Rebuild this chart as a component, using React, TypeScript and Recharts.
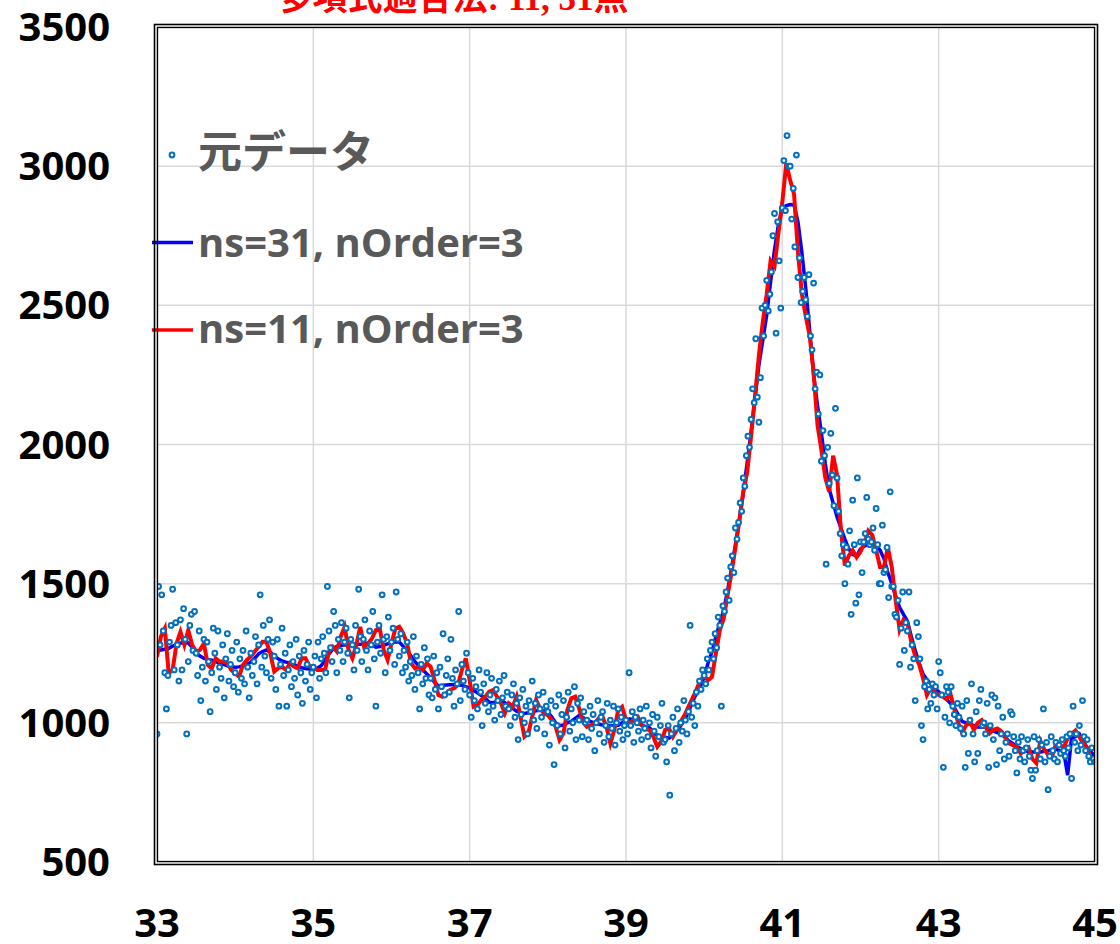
import {
  CartesianGrid,
  ComposedChart,
  Legend,
  Line,
  Scatter,
  XAxis,
  YAxis,
} from "recharts";

/* ===== Size ===== */
const CHART_W = 1120;
const CHART_H = 944;

/* ===== Labels ===== */
const TITLE = "多項式適合法: 11, 31点";
const RAW_NAME = "元データ";
const NS31_NAME = "ns=31, nOrder=3";
const NS11_NAME = "ns=11, nOrder=3";

/* ===== Ticks ===== */
const X_TICKS = [33, 35, 37, 39, 41, 43, 45];
const Y_TICKS = [500, 1000, 1500, 2000, 2500, 3000, 3500];

/* ===== Raw counts, 2θ = 33.00 .. 45.00 step 0.02 ===== */
const RAW_START = 33;
const RAW_STEP = 0.02;
const rawCounts = [
  960, 1490, 1280, 1460, 1330, 1180, 1050, 1170, 1290, 1350, 1480, 1190, 1360, 1280, 1150, 1370, 1190, 1410, 1300, 960, 1220, 1350, 1390, 1260, 1400,
  1250, 1170, 1330, 1080, 1200, 1300, 1150, 1290, 1220, 1040, 1180, 1340, 1250, 1120, 1330, 1200, 1160, 1280, 1090, 1230, 1320, 1150, 1210, 1260, 1130,
  1180, 1290, 1110, 1230, 1160, 1260, 1140, 1330, 1200, 1090, 1250, 1170, 1220, 1310, 1140, 1280, 1460, 1200, 1350, 1240, 1180, 1300, 1370, 1160, 1290,
  1240, 1120, 1300, 1060, 1210, 1340, 1170, 1250, 1060, 1190, 1280, 1130, 1220, 1160, 1300, 1100, 1240, 1180, 1070, 1260, 1150, 1210, 1290, 1120, 1180,
  1200, 1240, 1090, 1290, 1160, 1230, 1310, 1250, 1180, 1490, 1330, 1270, 1220, 1400, 1350, 1180, 1300, 1260, 1360, 1220, 1290, 1340, 1250, 1090, 1300,
  1280, 1190, 1350, 1260, 1480, 1310, 1220, 1300, 1370, 1260, 1190, 1330, 1280, 1400, 1230, 1060, 1290, 1350, 1250, 1460, 1300, 1180, 1310, 1380, 1260,
  1290, 1340, 1210, 1470, 1300, 1240, 1320, 1180, 1260, 1200, 1290, 1150, 1220, 1170, 1310, 1120, 1240, 1180, 1050, 1210, 1140, 1270, 1160, 1230, 1100,
  1160, 1090, 1240, 1120, 1180, 1050, 1200, 1130, 1320, 1100, 1170, 1230, 1110, 1300, 1160, 1060, 1190, 1140, 1400, 1080, 1210, 1150, 1120, 1250, 1180,
  1100, 1020, 1160, 1080, 1130, 1050, 1190, 1110, 990, 1140, 1070, 1180, 1040, 1100, 1160, 1060, 1010, 1120, 1080, 1150, 1030, 1090, 1170, 1060, 1110,
  1050, 990, 1100, 1140, 1020, 1070, 940, 1090, 1030, 1120, 1000, 1060, 960, 1080, 1040, 1150, 1010, 1070, 980, 1100, 1050, 1020, 1110, 960, 1060,
  1040, 920, 1080, 1000, 850, 1060, 990, 1100, 960, 1030, 1080, 910, 1020, 1110, 970, 1050, 1000, 1130, 940, 1070, 1010, 1090, 950, 1040, 1000,
  1010, 940, 1060, 980, 1030, 900, 1000, 1080, 960, 1020, 1040, 930, 990, 1070, 950, 1010, 980, 1060, 920, 1000, 1050, 970, 1020, 940, 990,
  1010, 960, 1180, 990, 1040, 930, 1020, 1000, 970, 1050, 940, 1010, 980, 1060, 950, 1000, 910, 1030, 970, 880, 1020, 950, 990, 1070, 930,
  940, 860, 990, 740, 960, 1020, 900, 980, 1050, 930, 1000, 970, 1080, 1010, 960, 1040, 1350, 1020, 1070, 990, 1110, 1060, 1150, 1120, 1190,
  1170, 1140, 1230, 1190, 1260, 1290, 1230, 1320, 1270, 1380, 1350, 1060, 1420, 1400, 1470, 1520, 1440, 1560, 1600, 1540, 1700, 1660, 1720, 1790, 1760,
  1880, 1850, 1960, 2030, 1990, 2090, 2200, 2150, 2380, 2170, 2080, 2240, 2490, 2390, 2500, 2590, 2480, 2540, 2620, 2750, 2830, 2400, 2800, 2660, 2490,
  2850, 3020, 2840, 3110, 3000, 3000, 2810, 2920, 2710, 3040, 2600, 2670, 2510, 2550, 2600, 2520, 2460, 2610, 2390, 2340, 2580, 2200, 2260, 2110, 2250,
  1940, 2050, 1960, 1570, 1990, 1860, 2040, 1890, 1780, 2130, 1880, 1760, 1680, 1600, 1640, 1500, 1630, 1570, 1690, 1390, 1800, 1640, 1430, 1880, 1460,
  1650, 1540, 1650, 1680, 1810, 1660, 1640, 1650, 1700, 1620, 1770, 1640, 1500, 1500, 1710, 1540, 1550, 1630, 1450, 1830, 1490, 1490, 1390, 1380, 1440,
  1210, 1340, 1470, 1260, 1360, 1330, 1470, 1200, 1280, 1230, 1080, 1360, 1310, 1230, 990, 940, 1130, 1150, 1050, 1120, 1070, 1140, 1100, 1130, 1050,
  1220, 1180, 1100, 840, 1020, 1130, 1110, 1000, 1130, 1060, 1030, 990, 1070, 1020, 980, 1060, 960, 840, 1080, 890, 1010, 1140, 960, 860, 1040,
  890, 1080, 1120, 990, 1000, 960, 1070, 840, 990, 1100, 940, 1090, 850, 1060, 900, 960, 1020, 870, 930, 960, 880, 1040, 1030, 950, 900,
  820, 930, 870, 950, 900, 860, 910, 940, 880, 830, 800, 950, 830, 900, 940, 870, 920, 1050, 860, 930, 760, 880, 950, 900, 870,
  930, 860, 920, 890, 940, 900, 880, 950, 910, 960, 800, 1060, 930, 960, 900, 990, 920, 1080, 950, 900, 940, 880, 860, 910, 870,
  860,
];

/* ===== Smoothed curves, 2θ = 33.00 .. 45.00 step 0.05 ===== */
const FIT_START = 33;
const FIT_STEP = 0.05;
const ns31Fit = [
  1262, 1262, 1264, 1268, 1275, 1282, 1287, 1288, 1287, 1272,
  1250, 1240, 1232, 1228, 1225, 1220, 1215, 1210, 1205, 1202,
  1200, 1201, 1205, 1210, 1218, 1232, 1248, 1256, 1262, 1254,
  1240, 1230, 1222, 1218, 1215, 1210, 1203, 1198, 1195, 1193,
  1192, 1196, 1205, 1225, 1248, 1265, 1275, 1279, 1280, 1280,
  1280, 1281, 1282, 1285, 1287, 1280, 1272, 1274, 1278, 1284,
  1288, 1290, 1290, 1275, 1258, 1240, 1220, 1205, 1190, 1176,
  1163, 1146, 1133, 1134, 1136, 1137, 1138, 1137, 1135, 1130,
  1125, 1116, 1108, 1098, 1088, 1074, 1072, 1076, 1082, 1072,
  1062, 1052, 1042, 1037, 1034, 1036, 1040, 1043, 1046, 1043,
  1038, 1022, 1000, 990, 992, 1000, 1005, 1016, 1026, 1019,
  1010, 1004, 998, 995, 992, 990, 989, 990, 991, 1000,
  1008, 1014, 1010, 1000, 992, 986, 982, 968, 955, 950,
  948, 945, 955, 972, 990, 1012, 1040, 1075, 1105, 1130,
  1165, 1215, 1255, 1310, 1358, 1405, 1475, 1555, 1640, 1730,
  1825, 1935, 2045, 2165, 2285, 2375, 2465, 2585, 2700, 2790,
  2850, 2858, 2862, 2860, 2800, 2690, 2560, 2410, 2250, 2140,
  2040, 1930, 1840, 1790, 1740, 1700, 1660, 1625, 1605, 1600,
  1625, 1635, 1640, 1640, 1638, 1620, 1590, 1540, 1500, 1455,
  1415, 1390, 1365, 1310, 1260, 1215, 1175, 1155, 1140, 1125,
  1112, 1098, 1085, 1070, 1055, 1030, 1005, 1000, 995, 990,
  985, 984, 985, 978, 970, 965, 960, 948, 935, 925,
  915, 908, 900, 897, 895, 895, 895, 898, 900, 903,
  905, 900, 895, 812, 945, 950, 960, 935, 910, 895,
  880,
];
const ns11Fit = [
  1238, 1310, 1339, 1178, 1190, 1285, 1327, 1280, 1333, 1280,
  1256, 1262, 1285, 1208, 1196, 1232, 1220, 1220, 1214, 1190,
  1178, 1166, 1208, 1226, 1238, 1256, 1273, 1291, 1291, 1250,
  1184, 1196, 1202, 1190, 1214, 1202, 1196, 1232, 1232, 1202,
  1202, 1190, 1190, 1190, 1256, 1273, 1256, 1310, 1345, 1262,
  1232, 1280, 1345, 1273, 1285, 1303, 1333, 1339, 1262, 1226,
  1285, 1339, 1345, 1321, 1285, 1214, 1196, 1202, 1190, 1214,
  1202, 1154, 1100, 1094, 1106, 1118, 1124, 1136, 1190, 1232,
  1153, 1058, 1064, 1082, 1094, 1112, 1118, 1094, 1070, 1034,
  1070, 1058, 1094, 1022, 950, 962, 1022, 1082, 1052, 1034,
  1028, 1010, 986, 938, 962, 1046, 1088, 1094, 1052, 1004,
  986, 992, 998, 1016, 1022, 986, 926, 974, 1046, 1058,
  1010, 992, 1016, 1022, 992, 980, 974, 950, 914, 932,
  974, 980, 950, 974, 1004, 1028, 1058, 1088, 1118, 1153,
  1168, 1153, 1165, 1249, 1333, 1375, 1460, 1540, 1630, 1725,
  1830, 1900, 2030, 2170, 2320, 2440, 2540, 2660, 2640, 2760,
  2870, 3010, 2950, 2900, 2690, 2540, 2460, 2390, 2260, 2070,
  1980, 1880, 1830, 1960, 1890, 1690, 1565, 1600, 1620, 1595,
  1615, 1645, 1690, 1675, 1620, 1560, 1560, 1630, 1560, 1440,
  1335, 1370, 1360, 1290, 1240, 1210, 1160, 1100, 1125, 1110,
  1100, 1095, 1085, 1105, 1050, 1000, 965, 990, 1005, 975,
  1000, 1010, 985, 962, 975, 980, 970, 950, 926, 920,
  912, 890, 905, 912, 870, 855, 935, 905, 885, 878,
  925, 920, 912, 945, 960, 972, 950, 925, 910, 870,
  855,
];

/* ===== Series points ===== */
const toPoints = (values: number[], start: number, step: number) =>
  values.map((y, i) => ({ x: Number((start + i * step).toFixed(2)), y }));

const rawData = toPoints(rawCounts, RAW_START, RAW_STEP);
const ns31Data = toPoints(ns31Fit, FIT_START, FIT_STEP);
const ns11Data = toPoints(ns11Fit, FIT_START, FIT_STEP);

/* ===== Styles ===== */
const AXIS_FONT = "'Open Sans', 'Noto Sans', sans-serif";
const CJK_FONT = "'Noto Sans CJK JP', 'Noto Sans', sans-serif";
const RAW_COLOR = "#0070C0";
const NS31_COLOR = "#0000FF";
const NS11_COLOR = "#FF0000";
const LEGEND_TEXT = "#595959";

/* ===== Axis ticks ===== */
const YTick = ({ y, payload }: any) => (
  <text
    x={110}
    y={y + 14}
    textAnchor="end"
    fontFamily={AXIS_FONT}
    fontWeight={700}
    fontSize={40}
    fill="#000"
  >
    {payload.value}
  </text>
);

const XTick = ({ x, payload }: any) => (
  <text
    x={x}
    y={937}
    textAnchor="middle"
    fontFamily={AXIS_FONT}
    fontWeight={700}
    fontSize={40}
    fill="#000"
  >
    {payload.value}
  </text>
);

/* ===== Raw data marker: small hollow circle ===== */
const RawDot = ({ cx, cy }: any) => (
  <circle cx={cx} cy={cy} r={2.4} fill="#fff" stroke={RAW_COLOR} strokeWidth={2} />
);

/* ===== Legend ===== */
const LegendBox = () => (
  <svg width={420} height={240} style={{ overflow: "visible" }}>
    <circle cx={24} cy={35} r={2.4} fill="#fff" stroke={RAW_COLOR} strokeWidth={2} />
    <text x={50} y={48} fontFamily={CJK_FONT} fontWeight={700} fontSize={44} fill={LEGEND_TEXT}>
      {RAW_NAME}
    </text>
    <line x1={4} x2={45} y1={122.5} y2={122.5} stroke={NS31_COLOR} strokeWidth={3.5} />
    <text x={50} y={137} fontFamily={AXIS_FONT} fontWeight={700} fontSize={40} fill={LEGEND_TEXT}>
      {NS31_NAME}
    </text>
    <line x1={4} x2={45} y1={210} y2={210} stroke={NS11_COLOR} strokeWidth={3.5} />
    <text x={50} y={223} fontFamily={AXIS_FONT} fontWeight={700} fontSize={40} fill={LEGEND_TEXT}>
      {NS11_NAME}
    </text>
  </svg>
);

export default function App() {
  return (
    <div
      style={{
        position: "absolute",
        left: 0,
        top: 0,
        width: CHART_W,
        height: CHART_H,
        background: "#fff",
      }}
    >
      <ComposedChart
        width={CHART_W}
        height={CHART_H}
        margin={{ top: 27, right: 25, bottom: 0, left: 0 }}
      >
        <CartesianGrid stroke="#d9d9d9" strokeWidth={1.5} />

        <XAxis
          type="number"
          dataKey="x"
          domain={[33, 45]}
          ticks={X_TICKS}
          interval={0}
          allowDataOverflow
          axisLine={false}
          tickLine={false}
          height={82}
          tick={<XTick />}
        />

        <YAxis
          type="number"
          dataKey="y"
          domain={[500, 3500]}
          ticks={Y_TICKS}
          interval={0}
          allowDataOverflow
          axisLine={false}
          tickLine={false}
          width={157}
          tick={<YTick />}
        />

        <Line
          data={ns31Data}
          dataKey="y"
          name={NS31_NAME}
          type="linear"
          stroke={NS31_COLOR}
          strokeWidth={3.5}
          dot={false}
          activeDot={false}
          isAnimationActive={false}
        />

        <Line
          data={ns11Data}
          dataKey="y"
          name={NS11_NAME}
          type="linear"
          stroke={NS11_COLOR}
          strokeWidth={4}
          dot={false}
          activeDot={false}
          isAnimationActive={false}
        />

        <Scatter
          data={rawData}
          dataKey="y"
          name={RAW_NAME}
          shape={<RawDot />}
          isAnimationActive={false}
        />

        <Legend
          layout="horizontal"
          verticalAlign="middle"
          align="center"
          content={<LegendBox />}
          wrapperStyle={{ left: 148, top: 120, width: 420, height: 240 }}
        />
      </ComposedChart>

      {/* Title (runs off the top edge) and the double frame round the plot */}
      <svg
        width={CHART_W}
        height={CHART_H}
        style={{ position: "absolute", left: 0, top: 0, pointerEvents: "none" }}
      >
        <text
          x={453}
          y={10}
          textAnchor="middle"
          fontFamily="'Liberation Serif', 'Noto Sans CJK JP', serif"
          fontWeight={700}
          fontSize={35}
          fill="#FF0000"
        >
          {TITLE}
        </text>
        <rect x={154.5} y={24.5} width={943} height={840} fill="none" stroke="#000" strokeWidth={1.6} />
        <rect x={157.5} y={27.5} width={937} height={834} fill="none" stroke="#000" strokeWidth={1.3} />
      </svg>
    </div>
  );
}
